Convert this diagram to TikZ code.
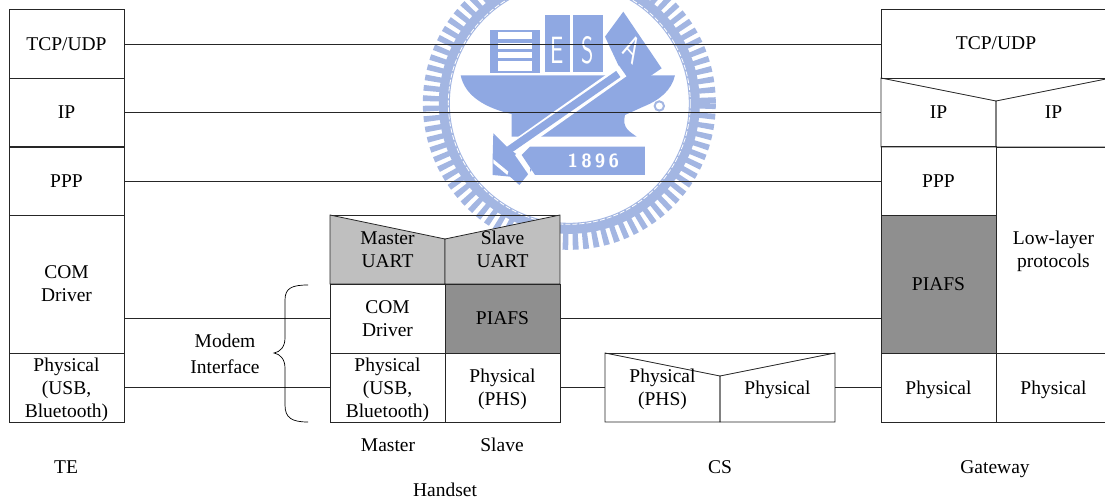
\documentclass[tikz,border=0pt]{standalone}
\usepackage{fontspec}
\setmainfont{Liberation Serif}
\definecolor{crestblue}{HTML}{8FA8E2}
\definecolor{ringblue}{HTML}{A3B6E2}
\definecolor{uartgray}{HTML}{BFBFBF}
\definecolor{piafsgray}{HTML}{8F8F8F}
\newcommand{\dropped}{\rule{0pt}{17.5pt}}
\tikzset{
  layerbox/.style={draw=black!85, line width=0.8pt, inner sep=0pt, outer sep=0pt, align=center,
    minimum width=115pt, minimum height=69pt},
  layertext/.style={inner sep=0pt, outer sep=0pt, align=center, minimum width=115pt, minimum height=69pt},
  caption/.style={inner sep=0pt, align=center},
  layerline/.style={draw=black!85, line width=0.8pt},
  crestletter/.style={text=white, font=\sffamily\fontsize{38}{38}\selectfont, inner sep=0pt, xscale=0.62, transform shape}
}
\begin{document}
\begin{tikzpicture}[x=1pt, y=-1pt, font=\fontsize{19.5}{23}\selectfont]

  \clip (0,0) rectangle (1105,500);

  % Crest behind the stacks
  \begin{scope}[shift={(430,0)}, x=0.3333pt, y=-0.3333pt]
    \draw[ringblue, line width=17pt, dash pattern=on 5.5pt off 4.4pt] (418,310) circle (414);
    \draw[ringblue, line width=11pt] (418,310) circle (375);
    \draw[white, line width=0.8pt, dash pattern=on 5pt off 2pt] (418,310) circle (363);
    % Ship
    \fill[crestblue] (92,226) -- (735,226) .. controls (725,270) and (690,300) .. (640,320)
      -- (585,345) .. controls (575,385) and (600,395) .. (620,410) -- (350,410) -- (245,410)
      -- (245,342) .. controls (170,325) and (105,290) .. (92,226) -- cycle;
    \fill[crestblue] (180,90) rectangle (330,220);
    \fill[white] (205,95) rectangle (305,118);
    \fill[white] (205,128) rectangle (305,146);
    \fill[white] (205,156) rectangle (305,174);
    \fill[white] (205,184) rectangle (305,212);
    \fill[crestblue] (345,45) rectangle (420,215);
    \fill[crestblue] (430,45) rectangle (520,215);
    \fill[crestblue] (580,35) -- (695,205) -- (600,270) -- (525,110) -- cycle;
    \node[crestletter] (crestE) at (382,150) {E};
    \node[crestletter] (crestS) at (472,150) {S};
    \node[crestletter, rotate=-35] (crestA) at (607,145) {A};
    % Hammer handle
    \draw[white, line width=13pt] (578,213) -- (250,445);
    \draw[crestblue, line width=7.5pt] (565,222) -- (225,458);
    \fill[crestblue] (190,400) -- (235,445) -- (270,470) -- (305,510) -- (268,555) -- (240,530)
      -- (188,525) -- (188,470) -- cycle;
    \fill[white] (190,478) -- (235,515) -- (232,525) -- (190,490) -- cycle;
    % Year plate
    \fill[white] (255,465) -- (300,435) -- (300,530) -- cycle;
    \fill[crestblue] (300,440) -- (645,440) -- (645,525) -- (315,525) -- (275,465) -- cycle;
    \node[text=white, font=\sffamily\bfseries\fontsize{19}{19}\selectfont, inner sep=0pt] (crestyear) at (490,482) {1\,8\,9\,6};
    \draw[ringblue, line width=2pt] (688,318) circle (14);
  \end{scope}

  % TE
  \node[layerbox] (tetcp) at (66.5,44) {TCP/UDP};
  \node[layerbox] (teip) at (66.5,112.5) {IP};
  \node[layerbox] (teppp) at (66.5,181) {PPP};
  \node[layerbox, minimum height=138pt] (tecom) at (66.5,284) {COM\\Driver};
  \node[layerbox] (tephy) at (66.5,387.5) {\dropped Physical\\(USB,\\Bluetooth)};
  \node[caption] (telabel) at (66,467) {TE};

  % Handset
  \draw[layerline] (330,215) -- (560,215);
  \draw[layerline, fill=uartgray] (330,215) -- (445,239) -- (445,284) -- (330,284) -- cycle;
  \draw[layerline, fill=uartgray] (560,215) -- (445,239) -- (445,284) -- (560,284) -- cycle;
  \node[layertext] (hsmaster) at (387.5,249.5) {Master\\UART};
  \node[layertext] (hsslave) at (502.5,249.5) {Slave\\UART};
  \node[layerbox] (hscom) at (387.5,318.5) {COM\\Driver};
  \node[layerbox, fill=piafsgray] (hspiafs) at (502.5,318.5) {PIAFS};
  \node[layerbox] (hsusb) at (387.5,387.5) {\dropped Physical\\(USB,\\Bluetooth)};
  \node[layerbox] (hsphs) at (502.5,387.5) {\dropped Physical\\(PHS)};
  \node[caption] (masterlabel) at (388,445) {Master};
  \node[caption] (slavelabel) at (502,445) {Slave};
  \node[caption] (hslabel) at (445,490) {Handset};

  % CS
  \draw[layerline] (605,353) -- (835,353);
  \draw[layerline] (605,353) -- (720,376) -- (720,422) -- (605,422) -- cycle;
  \draw[layerline] (835,353) -- (720,376) -- (720,422) -- (835,422) -- cycle;
  \node[layertext] (csphs) at (662.5,387.5) {\dropped Physical\\(PHS)};
  \node[layertext] (csphy) at (777.5,387.5) {\dropped Physical};
  \node[caption] (cslabel) at (720,467) {CS};

  % Gateway
  \node[layerbox, minimum width=230pt] (gwtcp) at (996,43.5) {TCP/UDP};
  \draw[layerline] (881,78) -- (996,101) -- (996,147) -- (881,147) -- cycle;
  \draw[layerline] (1111,78) -- (996,101) -- (996,147) -- (1111,147) -- cycle;
  \node[layertext] (gwip) at (938.5,112.5) {IP};
  \node[layertext] (gwiplow) at (1053.5,112.5) {IP};
  \node[layerbox] (gwppp) at (938.5,181) {PPP};
  \node[layerbox, minimum height=138pt, fill=piafsgray] (gwpiafs) at (938.5,284) {PIAFS};
  \node[layerbox, minimum height=206pt] (gwlow) at (1053.5,250) {};
  \node[caption] (gwlowtext) at (1053.5,251) {Low-layer\\protocols};
  \node[layerbox] (gwphy) at (938.5,387.5) {\dropped Physical};
  \node[layerbox] (gwphylow) at (1053.5,387.5) {\dropped Physical};
  \node[caption] (gwlabel) at (995,469) {Gateway};

  % Peer links
  \draw[layerline] (tetcp.east) -- (tetcp.east -| gwtcp.west);
  \draw[layerline] (teip.east) -- (gwip.west);
  \draw[layerline] (teppp.east) -- (gwppp.west);
  \draw[layerline] (tecom.east |- hscom.west) -- (hscom.west);
  \draw[layerline] (tephy.east) -- (hsusb.west);
  \draw[layerline] (hspiafs.east) -- (hspiafs.east -| gwpiafs.west);
  \draw[layerline] (hsphs.east) -- (csphs.west);
  \draw[layerline] (csphy.east) -- (gwphy.west);

  % Brace
  \draw[line width=0.7pt] (308,285) .. controls (292,285) and (285,288) .. (285,300) -- (285,338)
    .. controls (285,347) and (280,352) .. (274,353) .. controls (280,354) and (285,359) .. (285,368)
    -- (285,405) .. controls (285,418) and (292,422) .. (308,422);
  \node[caption] (modemlabel) at (225,354) {Modem\\[3pt]Interface};

\end{tikzpicture}
\end{document}
